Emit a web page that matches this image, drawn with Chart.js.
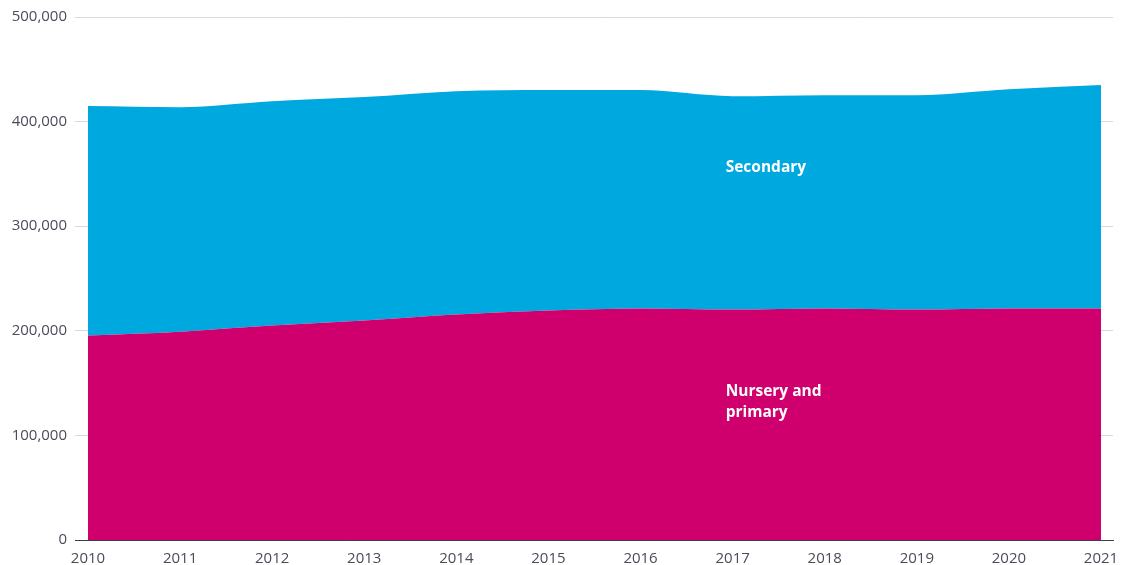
<!DOCTYPE html>
<html>
<head>
<meta charset="utf-8">
<script src="https://cdn.jsdelivr.net/npm/chart.js@4"></script>
<style>
  html, body { margin: 0; padding: 0; background: #fff; }
  #wrap { width: 1124px; height: 565px; }
</style>
</head>
<body>
<div id="wrap"><canvas id="pupilChart" width="1124" height="565"></canvas></div>
<script>
const years = [2010, 2011, 2012, 2013, 2014, 2015, 2016, 2017, 2018, 2019, 2020, 2021];
const nurseryPrimary = [195400, 199200, 205000, 209800, 215500, 219300, 221300, 220300, 221300, 220300, 221300, 221300];
const secondary = [219400, 214600, 214500, 213600, 213600, 210800, 208800, 204000, 204000, 205000, 209700, 213600];
const yTicks = [0, 100000, 200000, 300000, 400000, 500000];

const fontFamily = "'Open Sans', sans-serif";
const tickColor = "#4b4b5c";

// area labels drawn inside the bands
const areaLabels = {
  id: "areaLabels",
  afterDatasetsDraw(chart) {
    const { ctx, scales } = chart;
    const x = scales.x.getPixelForValue(2017) - 7;
    ctx.save();
    ctx.fillStyle = "#ffffff";
    ctx.font = "bold 15.5px " + fontFamily;
    ctx.textBaseline = "middle";
    ctx.textAlign = "left";
    ctx.fillText("Secondary", x, scales.y.getPixelForValue(356000));
    ctx.fillText("Nursery and", x, scales.y.getPixelForValue(141500));
    ctx.fillText("primary", x, scales.y.getPixelForValue(121400));
    ctx.restore();
  }
};

new Chart(document.getElementById("pupilChart").getContext("2d"), {
  type: "line",
  data: {
    datasets: [
      {
        label: "Nursery and primary",
        data: years.map((y, i) => ({ x: y, y: nurseryPrimary[i] })),
        backgroundColor: "#cf006d",
        borderColor: "#cf006d",
        borderWidth: 0,
        pointRadius: 0,
        fill: "origin",
        cubicInterpolationMode: "monotone"
      },
      {
        label: "Secondary",
        data: years.map((y, i) => ({ x: y, y: secondary[i] })),
        backgroundColor: "#00a8e0",
        borderColor: "#00a8e0",
        borderWidth: 0,
        pointRadius: 0,
        fill: "-1",
        cubicInterpolationMode: "monotone"
      }
    ]
  },
  options: {
    responsive: false,
    animation: false,
    layout: { padding: { top: 12, right: 11, left: 0, bottom: 0 } },
    plugins: {
      legend: { display: false },
      tooltip: { enabled: false }
    },
    scales: {
      x: {
        type: "linear",
        min: 2010,
        max: 2021 + 12 / 92,
        afterBuildTicks: scale => { scale.ticks = years.map(v => ({ value: v })); },
        afterFit: scale => { scale.height = 25; },
        grid: { display: false },
        border: { display: true, color: "#3c3c4a", width: 1 },
        ticks: {
          color: tickColor,
          font: { family: fontFamily, size: 15 },
          padding: 2,
          maxRotation: 0,
          autoSkip: false,
          callback: v => String(v)
        }
      },
      y: {
        stacked: true,
        min: 0,
        max: 500000,
        afterBuildTicks: scale => { scale.ticks = yTicks.map(v => ({ value: v })); },
        afterFit: scale => { scale.width = 88; },
        border: { display: false },
        grid: {
          color: ctx => ctx.tick && ctx.tick.value === 0 ? "#3c3c4a" : "#d8d8e2",
          tickLength: 13,
          drawTicks: true
        },
        ticks: {
          color: tickColor,
          font: { family: fontFamily, size: 15 },
          padding: 8,
          callback: v => v.toLocaleString("en-GB")
        }
      }
    }
  },
  plugins: [areaLabels]
});
</script>
</body>
</html>
